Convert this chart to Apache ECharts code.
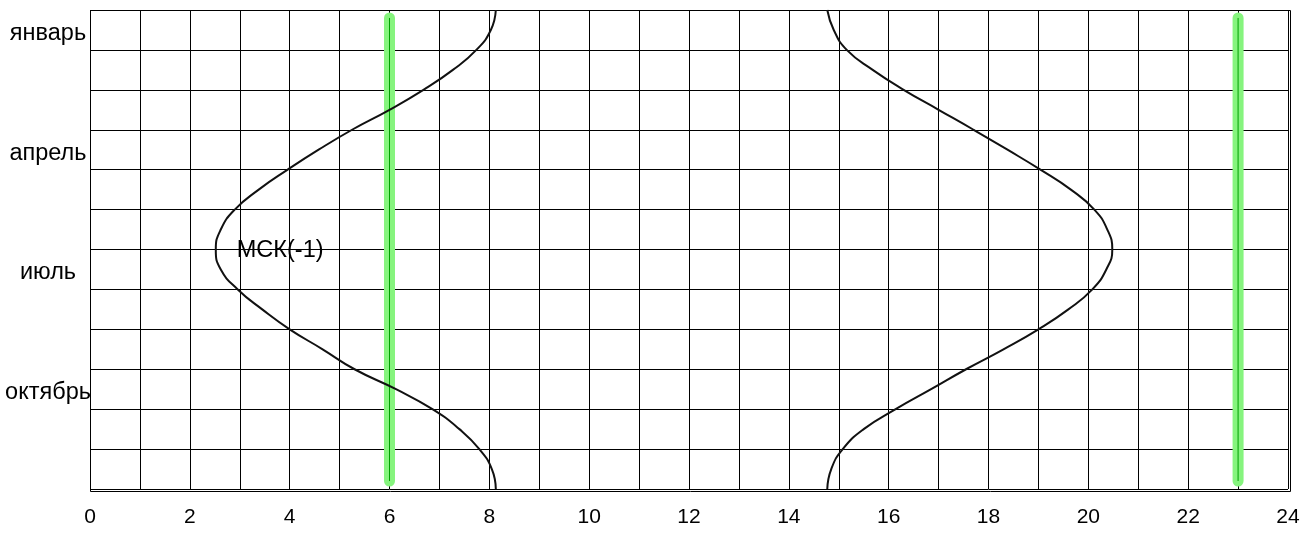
<!DOCTYPE html>
<html>
<head>
<meta charset="utf-8">
<script src="https://cdn.jsdelivr.net/npm/echarts@6/dist/echarts.min.js"></script>
<style>
html,body{margin:0;padding:0;background:#fff;}
#chart{width:1300px;height:550px;}
</style>
</head>
<body>
<div id="chart"></div>
<script>
// Month rows (top to bottom), labels shown on selected rows
const monthRows = ['январь', '', '', 'апрель', '', '', 'июль', '', '', 'октябрь', '', ''];
// Hour ticks shown on x axis
const hourTickLabels = ['0', '2', '4', '6', '8', '10', '12', '14', '16', '18', '20', '22', '24'];

// Position along the year (rows from top), shared by both curves
const yearPos = [0, 0.5, 1, 1.5, 2, 2.5, 3, 3.5, 4, 4.5, 5, 5.5, 6, 6.5, 7, 7.5, 8, 8.5, 9, 9.5, 10, 10.5, 11, 11.5, 12];
// Sunrise hour
const sunriseHour = [8.13, 8.03, 7.74, 7.27, 6.68, 6.00, 5.25, 4.58, 3.96, 3.38, 2.90, 2.62, 2.52, 2.62, 2.96, 3.45, 4.00, 4.66, 5.30, 6.13, 6.86, 7.40, 7.80, 8.05, 8.13];
// Sunset hour
const sunsetHour = [14.77, 14.90, 15.16, 15.68, 16.30, 17.00, 17.70, 18.38, 19.04, 19.65, 20.12, 20.38, 20.48, 20.36, 20.08, 19.60, 19.00, 18.30, 17.55, 16.85, 16.14, 15.50, 15.08, 14.85, 14.77];

// Vertical marker hours (green lines)
const markerHours = [6, 23];
const markerSpan = [0.2, 11.8];

// Annotation
const annotText = 'МСК(-1)';
const annotPos = [2.93, 6.03];

const FONT = '"Liberation Sans", Arial, sans-serif';

function pairs(ys, xs) { return xs.map((x, i) => [x, ys[i]]); }

const series = [];
markerHours.forEach(h => {
  series.push({
    type: 'line', xAxisIndex: 0, yAxisIndex: 0,
    data: markerSpan.map(y => [h, y]),
    symbol: 'none', silent: true, z: 3,
    lineStyle: { color: '#86f47e', width: 11, cap: 'round' }
  });
  series.push({
    type: 'line', xAxisIndex: 0, yAxisIndex: 0,
    data: markerSpan.map(y => [h, y]),
    symbol: 'none', silent: true, z: 4,
    lineStyle: { color: '#00a000', width: 1 }
  });
});
series.push({
  type: 'line', xAxisIndex: 0, yAxisIndex: 0,
  data: pairs(yearPos, sunriseHour),
  symbol: 'none', smooth: 0.5, z: 5,
  lineStyle: { color: '#111', width: 2 }
});
series.push({
  type: 'line', xAxisIndex: 0, yAxisIndex: 0,
  data: pairs(yearPos, sunsetHour),
  symbol: 'none', smooth: 0.5, z: 5,
  lineStyle: { color: '#111', width: 2 }
});
series.push({
  type: 'scatter', xAxisIndex: 0, yAxisIndex: 0,
  data: [annotPos], symbolSize: 1, z: 6, silent: true,
  itemStyle: { color: 'rgba(255,255,255,0)' },
  label: {
    show: true, formatter: annotText, position: 'right', distance: 0,
    color: '#000', opacity: 1, textBorderWidth: 0, fontSize: 23.5, fontFamily: FONT
  }
});

const chart = echarts.init(document.getElementById('chart'), null, { renderer: 'canvas' });
chart.setOption({
  animation: false,
  backgroundColor: '#fff',
  grid: [
    { left: 90, right: 12, top: 10, bottom: 61, show: false, outerBoundsMode: 'none', containLabel: false },
    { left: 90.5, right: 9.5, top: 10.5, bottom: 58.5, show: true, borderColor: '#000', borderWidth: 1, backgroundColor: 'transparent', outerBoundsMode: 'none', containLabel: false }
  ],
  xAxis: [
    {
      type: 'value', gridIndex: 0, min: 0, max: 24, interval: 1,
      axisLine: { show: false }, axisTick: { show: false },
      splitLine: { show: true, lineStyle: { color: '#000', width: 1 } },
      axisLabel: {
        color: '#000', fontSize: 21, fontFamily: FONT, margin: 18,
        formatter: v => hourTickLabels.indexOf(String(v)) >= 0 ? String(v) : ''
      }
    },
    { type: 'value', gridIndex: 1, min: 0, max: 1, show: false }
  ],
  yAxis: [
    {
      type: 'value', gridIndex: 0, position: 'left', min: 0, max: 12, interval: 1, inverse: true,
      axisLine: { show: false }, axisTick: { show: false }, axisLabel: { show: false },
      splitLine: { show: true, lineStyle: { color: '#000', width: 1 } }
    },
    {
      type: 'category', gridIndex: 0, position: 'left', data: monthRows, inverse: true, boundaryGap: true,
      axisLine: { show: false }, axisTick: { show: false }, splitLine: { show: false },
      axisLabel: {
        interval: 0, align: 'center', margin: 42,
        formatter: v => v ? '{m|' + v + '}' : '',
        rich: { m: { color: '#000', fontSize: 23.5, fontFamily: FONT, padding: [7, 0, 0, 0] } }
      }
    },
    { type: 'value', gridIndex: 1, min: 0, max: 1, show: false }
  ],
  series: series
});
</script>
</body>
</html>
